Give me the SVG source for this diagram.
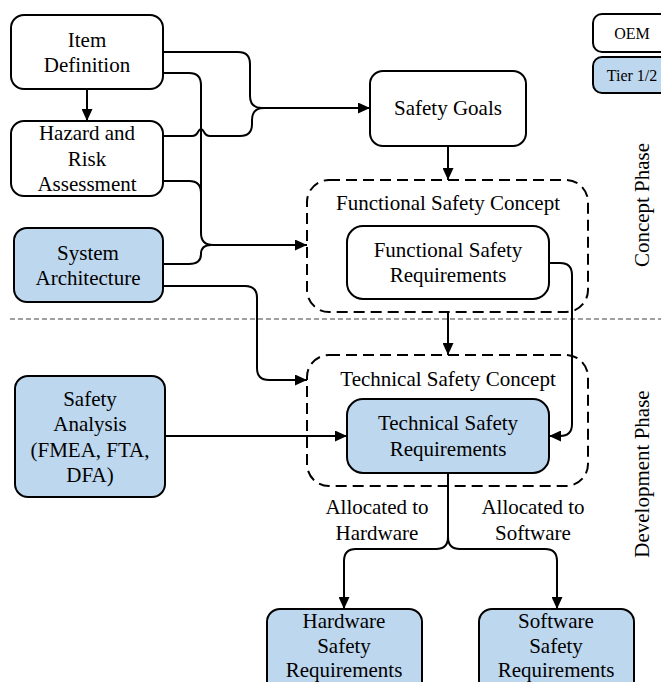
<svg xmlns="http://www.w3.org/2000/svg" width="661" height="682" viewBox="0 0 661 682">
  <style>
    text { font-family: "Liberation Serif", "Times New Roman", serif; font-size: 21px; fill: #000; text-anchor: middle; }
    .legend text { font-size: 16px; }
    .box { fill: #fff; stroke: #000; stroke-width: 2; }
    .tier { fill: #BDD7EE; stroke: #000; stroke-width: 2; }
    .concept { fill: none; stroke: #000; stroke-width: 2; stroke-dasharray: 11 6; }
    .conn { fill: none; stroke: #000; stroke-width: 2; }
    .arrow { marker-end: url(#head); }
  </style>
  <defs>
    <marker id="head" markerUnits="userSpaceOnUse" markerWidth="12" markerHeight="11" refX="12" refY="5.5" orient="auto">
      <path d="M0,0 L12,5.5 L0,11 z" fill="#000"/>
    </marker>
  </defs>

  <rect width="661" height="682" fill="#fff"/>

  <!-- phase separator -->
  <line x1="10" y1="319" x2="661" y2="319" stroke="#808080" stroke-width="1.5" stroke-dasharray="5 3"/>

  <!-- phase labels -->
  <text transform="translate(649,205) rotate(-90)">Concept Phase</text>
  <text transform="translate(649,474) rotate(-90)">Development Phase</text>

  <!-- legend -->
  <g id="legend" class="legend">
    <rect class="box" x="593" y="14" width="80" height="38" rx="9"/>
    <text x="632" y="39">OEM</text>
    <rect class="tier" x="593" y="57" width="80" height="36" rx="9"/>
    <text x="632" y="81">Tier 1/2</text>
  </g>

  <!-- concept containers -->
  <g id="functional-safety-concept">
    <rect class="concept" x="307" y="180" width="281" height="132" rx="22"/>
    <text x="448" y="210">Functional Safety Concept</text>
  </g>
  <g id="technical-safety-concept">
    <rect class="concept" x="307" y="355" width="281" height="131" rx="22"/>
    <text x="448" y="386">Technical Safety Concept</text>
  </g>

  <!-- connectors -->
  <g id="connectors">
    <path class="conn arrow" d="M163,52 H238 Q250,52 250,64 V96 Q250,108 262,108 H370"/>
    <path class="conn" d="M163,136 H192 Q196,136 198,132 Q201,126 204,132 Q206,136 210,136 H240 Q252,136 252,124 V120 Q252,108 264,108"/>
    <path class="conn arrow" d="M87,89 V121"/>
    <path class="conn arrow" d="M163,73 H189 Q201,73 201,85 V233 Q201,245 213,245 H307"/>
    <path class="conn" d="M163,181 H189 Q201,181 201,193"/>
    <path class="conn" d="M163,264 H189 Q201,264 201,254 Q201,245 211,245"/>
    <path class="conn arrow" d="M163,286 H245 Q257,286 257,298 V368 Q257,380 269,380 H307"/>
    <path class="conn arrow" d="M165,436 H347" stroke-width="1.6"/>
    <path class="conn arrow" d="M448,146 V180"/>
    <path class="conn arrow" d="M448,312 V355"/>
    <path class="conn arrow" d="M549,263 H560 Q572,263 572,275 V424 Q572,436 560,436 H549"/>
    <path class="conn arrow" d="M448,473 V537 Q448,549 436,549 H356 Q344,549 344,561 V609"/>
    <path class="conn arrow" d="M448,537 Q448,549 460,549 H545 Q557,549 557,561 V609"/>
  </g>

  <!-- nodes -->
  <g id="item-definition">
    <rect class="box" x="11" y="15" width="152" height="74" rx="13"/>
    <text x="87" y="47">Item</text>
    <text x="87" y="72">Definition</text>
  </g>
  <g id="hazard-risk-assessment">
    <rect class="box" x="11" y="121" width="152" height="75" rx="13"/>
    <text x="87" y="140">Hazard and</text>
    <text x="87" y="166">Risk</text>
    <text x="87" y="191">Assessment</text>
  </g>
  <g id="system-architecture">
    <rect class="tier" x="14" y="228" width="149" height="74" rx="13"/>
    <text x="88" y="260">System</text>
    <text x="88" y="285">Architecture</text>
  </g>
  <g id="safety-analysis">
    <rect class="tier" x="15" y="376" width="150" height="121" rx="13"/>
    <text x="90" y="406">Safety</text>
    <text x="90" y="431">Analysis</text>
    <text x="90" y="457">(FMEA, FTA,</text>
    <text x="90" y="482">DFA)</text>
  </g>
  <g id="safety-goals">
    <rect class="box" x="370" y="71" width="156" height="75" rx="13"/>
    <text x="448" y="115">Safety Goals</text>
  </g>
  <g id="functional-safety-requirements">
    <rect class="box" x="347" y="226" width="202" height="73" rx="16"/>
    <text x="448" y="257">Functional Safety</text>
    <text x="448" y="282">Requirements</text>
  </g>
  <g id="technical-safety-requirements">
    <rect class="tier" x="347" y="399" width="202" height="74" rx="16"/>
    <text x="448" y="430">Technical Safety</text>
    <text x="448" y="456">Requirements</text>
  </g>
  <g id="allocation-labels">
    <text x="377" y="514">Allocated to</text>
    <text x="377" y="540">Hardware</text>
    <text x="533" y="514">Allocated to</text>
    <text x="533" y="540">Software</text>
  </g>
  <g id="hardware-safety-requirements">
    <rect class="tier" x="267" y="609" width="155" height="85" rx="13"/>
    <text x="344" y="628">Hardware</text>
    <text x="344" y="653">Safety</text>
    <text x="344" y="677">Requirements</text>
  </g>
  <g id="software-safety-requirements">
    <rect class="tier" x="479" y="609" width="155" height="85" rx="13"/>
    <text x="556" y="628">Software</text>
    <text x="556" y="653">Safety</text>
    <text x="556" y="677">Requirements</text>
  </g>
</svg>
